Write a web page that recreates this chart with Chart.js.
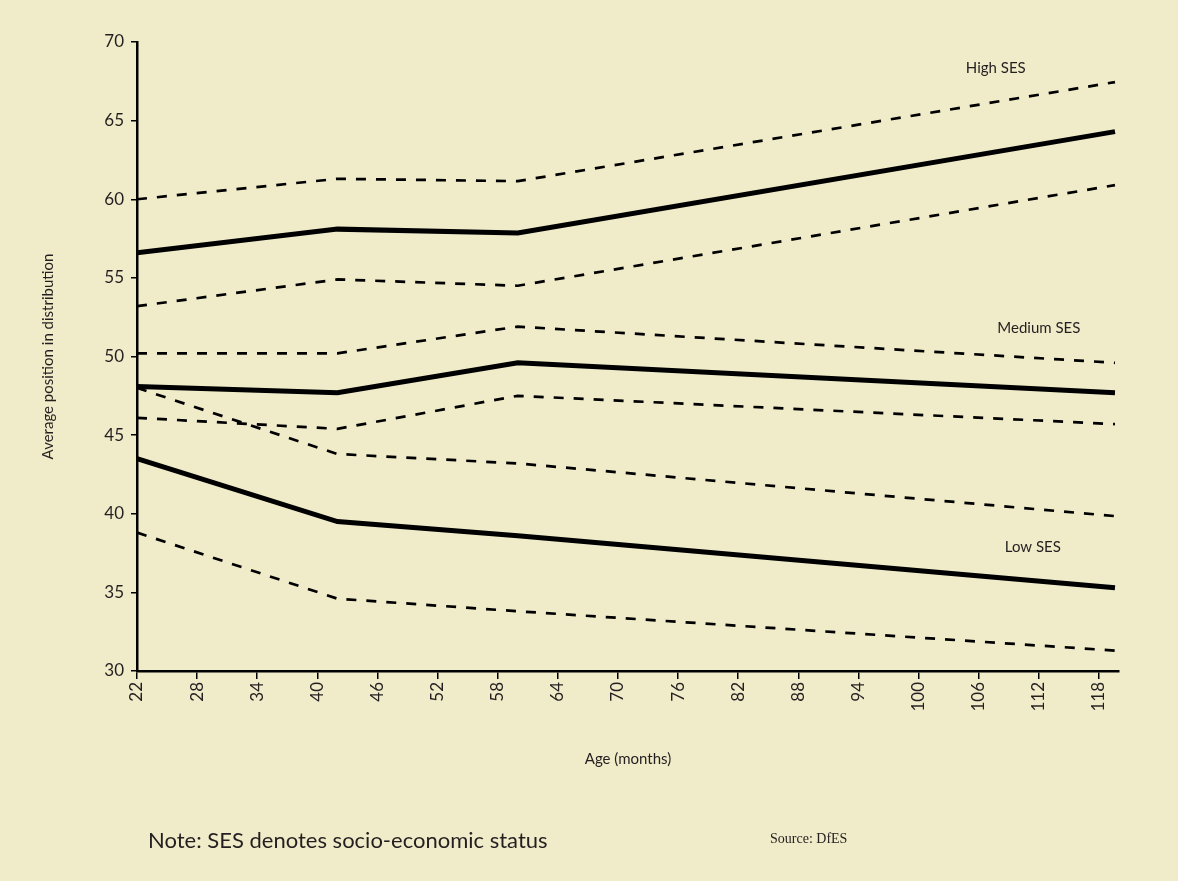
<!DOCTYPE html>
<html>
<head>
<meta charset="utf-8">
<script src="https://cdn.jsdelivr.net/npm/chart.js@4"></script>
<style>
  html, body { margin: 0; padding: 0; background: #f0ebc8; }
  #wrap { position: relative; width: 1178px; height: 881px; }
  #grafico { position: absolute; left: 0; top: 0; }
  .nota { position: absolute; left: 148px; top: 826px; font: 22px Lato, sans-serif; color: #231f20; }
  .fonte { position: absolute; left: 770px; top: 831px; font: 14px "Liberation Serif", serif; color: #231f20; }
</style>
</head>
<body>
<div id="wrap">
  <canvas id="grafico" width="1178" height="881"></canvas>
  <div class="nota">Note: SES denotes socio-economic status</div>
  <div class="fonte">Source: DfES</div>
</div>
<script>
// Idade (meses) dos pontos medidos
const idades = [22, 42, 60, 119.6];

// SES alto
const altoSuperior = [60.0, 61.3, 61.15, 67.45];
const altoMedia = [56.6, 58.1, 57.85, 64.3];
const altoInferior = [53.2, 54.9, 54.5, 60.9];

// SES médio
const medioSuperior = [50.2, 50.2, 51.9, 49.6];
const medioMedia = [48.1, 47.7, 49.6, 47.7];
const medioInferior = [46.1, 45.4, 47.5, 45.7];

// SES baixo
const baixoSuperior = [48.0, 43.8, 43.2, 39.85];
const baixoMedia = [43.5, 39.5, 38.6, 35.3];
const baixoInferior = [38.8, 34.6, 33.8, 31.3];

const rotulosGrupos = ['High SES', 'Medium SES', 'Low SES'];
const posRotulos = [[107.7, 68.35], [112, 51.8], [111.4, 37.9]];

const ticksX = [22, 28, 34, 40, 46, 52, 58, 64, 70, 76, 82, 88, 94, 100, 106, 112, 118];

const corTexto = '#231f20';

const serie = (valores, tracejada) => ({
    data: idades.map((x, i) => ({ x, y: valores[i] })),
    borderColor: '#000',
    borderWidth: tracejada ? 2.7 : 5,
    borderDash: tracejada ? [10, 10] : [],
    pointRadius: 0,
    tension: 0,
    fill: false
});

const rotulosPlugin = {
    id: 'rotulos',
    afterDatasetsDraw(chart) {
        const { ctx, scales } = chart;
        ctx.save();
        ctx.fillStyle = corTexto;
        ctx.font = '15px Lato, sans-serif';
        ctx.textAlign = 'center';
        ctx.textBaseline = 'middle';
        rotulosGrupos.forEach((t, i) => {
            ctx.fillText(t, scales.x.getPixelForValue(posRotulos[i][0]), scales.y.getPixelForValue(posRotulos[i][1]));
        });
        ctx.restore();
    }
};

new Chart(document.getElementById('grafico'), {
    type: 'line',
    data: {
        datasets: [
            serie(altoSuperior, true), serie(altoMedia, false), serie(altoInferior, true),
            serie(medioSuperior, true), serie(medioMedia, false), serie(medioInferior, true),
            serie(baixoSuperior, true), serie(baixoMedia, false), serie(baixoInferior, true)
        ]
    },
    options: {
        responsive: false,
        animation: false,
        layout: { padding: { left: 35, right: 59, top: 42, bottom: 109 } },
        plugins: { legend: { display: false }, tooltip: { enabled: false } },
        scales: {
            x: {
                type: 'linear',
                min: 22,
                max: 120,
                afterBuildTicks: (s) => { s.ticks = ticksX.map(v => ({ value: v })); },
                afterFit: (s) => { s.height = 101; },
                grid: { drawOnChartArea: false, tickLength: 8, color: '#000', lineWidth: 1.5 },
                border: { display: true, color: '#000', width: 2.5 },
                ticks: {
                    minRotation: 90, maxRotation: 90, padding: 3,
                    color: corTexto, font: { family: 'Lato', size: 17 }
                },
                title: {
                    display: true, text: 'Age (months)', color: corTexto,
                    font: { family: 'Lato', size: 15 }
                }
            },
            y: {
                min: 30,
                max: 70,
                afterFit: (s) => { s.width = 102; },
                ticks: { stepSize: 5, padding: 7, color: corTexto, font: { family: 'Lato', size: 17 } },
                grid: { drawOnChartArea: false, tickLength: 6, color: '#000', lineWidth: 1.5 },
                border: { display: true, color: '#000', width: 2.5 },
                title: {
                    display: true, text: 'Average position in distribution', color: corTexto,
                    font: { family: 'Lato', size: 15 }
                }
            }
        }
    },
    plugins: [rotulosPlugin]
});
</script>
</body>
</html>
